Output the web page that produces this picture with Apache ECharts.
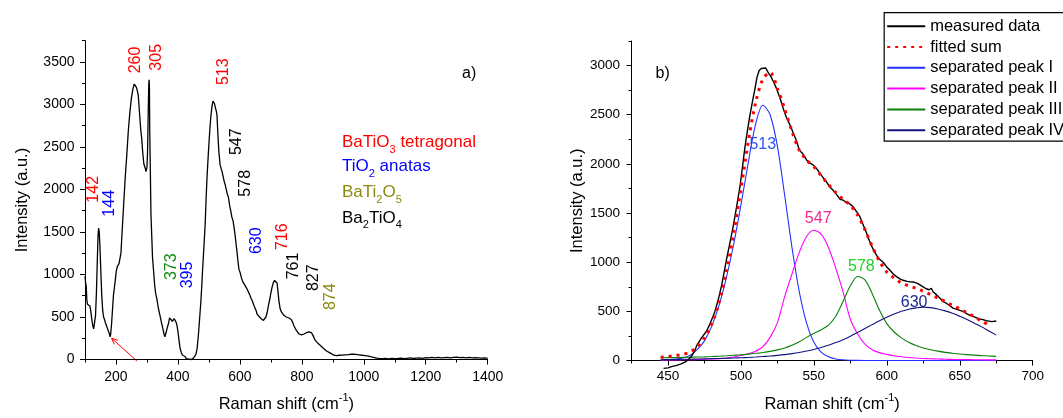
<!DOCTYPE html>
<html>
<head>
<meta charset="utf-8">
<title>Raman spectra</title>
<script src="https://cdn.jsdelivr.net/npm/echarts@6/dist/echarts.min.js"></script>
<style>
  html, body { margin: 0; padding: 0; background: #ffffff; }
  #chart { width: 1063px; height: 418px; }
</style>
</head>
<body>
<div id="chart"></div>
<script>
// ---------- panel a): full Raman spectrum ----------
const specShift = [100,102,104,106,108,110,113,116,119,122,125,128,131,134,137,140,142,144,146,148,151,154,157,160,163,166,170,173,176,179,181,183,186,189,192,195,198,201,204,207,210,213,216,219,222,226,230,235,240,245,250,255,259,262,266,269,272,276,280,283,286,290,294,297,300,302,304,306,307,308,309,311,313,316,318,321,325,328,332,337,342,347,351,355,358,362,366,370,373,376,379,382,385,388,391,394,397,400,403,407,411,415,419,423,427,431,435,439,443,447,450,454,458,462,466,470,474,477,480,484,488,491,494,498,502,506,510,513,515,518,521,524,526,529,532,536,539,542,546,549,552,556,560,563,567,571,574,578,581,585,588,590,594,597,601,605,608,611,615,619,623,628,632,636,640,644,648,652,655,659,662,665,669,672,676,680,684,688,692,696,700,704,708,712,715,717,720,723,726,730,734,738,742,746,750,754,758,762,766,770,774,779,783,787,791,795,799,803,807,811,815,819,823,827,831,835,839,843,848,852,856,860,865,870,875,880,886,892,898,904,913,920,930,940,950,960,967,975,985,995,1005,1015,1025,1035,1042,1050,1060,1070,1080,1090,1100,1110,1120,1130,1140,1150,1160,1170,1180,1190,1200,1210,1220,1230,1240,1250,1260,1270,1280,1290,1300,1310,1320,1330,1340,1350,1360,1370,1380,1390,1400];
const specCounts = [980,900,860,700,650,660,640,630,560,470,400,360,380,520,800,1200,1450,1545,1500,1350,1050,760,580,500,470,430,390,360,330,300,265,300,430,600,760,850,940,1040,1090,1100,1130,1140,1250,1450,1640,1900,2150,2410,2700,2913,3080,3190,3241,3230,3200,3160,3106,2900,2700,2604,2450,2300,2256,2210,2260,2450,2900,3250,3291,3200,2700,2200,1700,1400,1200,1059,870,780,712,600,518,430,370,300,267,320,380,430,490,470,480,450,470,480,460,440,400,330,240,132,80,50,30,35,10,-5,5,-10,0,-5,16,30,60,130,286,480,680,866,1080,1330,1599,1900,2150,2410,2650,2850,2980,3040,3050,3010,2960,2920,2880,2650,2450,2295,2250,2218,2150,2100,2063,2000,1940,1909,1810,1740,1677,1630,1561,1450,1350,1290,1150,1060,1020,960,930,904,880,860,830,808,760,720,690,650,610,580,538,520,505,498,480,470,460,470,500,550,634,700,780,850,904,930,945,943,900,800,690,596,560,540,520,498,500,495,488,480,470,440,400,364,340,320,300,286,290,295,300,306,315,322,324,324,315,290,260,228,205,190,180,165,151,130,115,100,93,75,60,50,46,50,52,55,58,62,63,60,55,50,46,40,30,22,16,12,10,12,8,14,10,12,15,10,14,18,12,16,20,14,22,18,25,20,24,18,22,26,20,24,28,22,26,20,24,18,22,20,16,20,14];

// peak assignments written above the spectrum
const peakTags = ['260','305','513','547','578','142','144','373','395','630','716','761','827','874'];
const phaseNames = ['BaTiO{s|3} tetragonal', 'TiO{s|2} anatas', 'BaTi{s|2}O{s|5}', 'Ba{s|2}TiO{s|4}'];

// ---------- panel b): peak separation of the 450-675 band ----------
const measShift = [447,450,453,456,459,462,464,466,468,470,473,476.5,479,482,484.5,486.8,488.5,490.2,492.5,494.7,497,499.3,501,502.7,504.5,506.2,508,509.6,511,512.5,514,515.3,517,519,520.5,522.5,524.5,527,529,531,533.6,536,538.2,540,541,542.7,545,547,549.5,552,555.3,558,561,563.2,566,568,570,572,574,576.9,579,581.5,583.5,586.1,588,590.6,593,595,597.5,600,602,604.3,607,609,611.2,614,616,618,621,624.9,627,629,630.5,631.7,634,636,638.6,641,643,645.4,648,650,652.3,655,657,659.1,662,664,666,668,670,672,674,675];
const measCounts = [-80,-75,-60,-50,-35,-15,10,40,90,160,230,300,380,490,620,766,900,1033,1200,1365,1560,1765,1960,2164,2340,2497,2640,2763,2880,2950,2970,2990,2975,2920,2890,2830,2763,2660,2563,2480,2397,2310,2231,2140,2160,2097,2040,2010,1990,1950,1881,1830,1765,1731,1680,1640,1632,1610,1600,1565,1520,1465,1390,1298,1220,1132,1070,1030,999,950,920,883,850,830,816,805,800,799,785,749,730,720,735,699,670,640,599,580,560,533,520,510,499,475,460,449,430,420,416,405,400,395,400,399];

const fitShift = [445,450,455,460,465,470,475,480,485,490,495,500,505,510,515,520,525,530,535,540,545,550,555,560,565,570,575,580,585,590,595,600,605,610,615,620,625,630,635,640,645,650,655,660,665,670,675];
const fittedSum = [34,40,50,62,85,140,230,370,590,900,1290,1740,2220,2620,2860,2930,2770,2560,2330,2140,2040,1970,1880,1790,1710,1640,1580,1480,1330,1160,1010,900,840,790,760,735,705,670,635,600,560,525,485,445,400,360,null];
const peakI   = [5,8,14,25,50,110,200,350,560,840,1180,1580,2010,2400,2596,2500,2180,1680,1150,700,380,185,85,38,16,7,3,1,0,0,0,0,0,0,0,0,0,0,0,0,0,0,0,0,0,0,0];
const peakII  = [4,5,6,7,8,10,12,15,19,26,36,50,68,95,140,235,385,650,880,1100,1262,1325,1285,1150,940,700,420,270,167,110,80,62,48,38,30,25,21,18,15,13,11,10,9,8,7,6,6];
const peakIII = [28,29,30,32,33,35,37,40,44,48,53,58,65,73,82,93,108,128,155,190,235,275,313,360,450,600,760,855,820,680,510,375,290,230,185,152,128,110,95,83,74,66,60,55,50,46,42];
const peakIV  = [8,9,10,12,13,15,17,19,21,23,25,28,31,35,40,45,52,60,70,82,96,112,132,155,182,212,246,285,325,365,404,440,472,500,522,535,543,538,524,505,480,450,418,380,342,300,258];
const peakTagsB = ['513','547','578','630'];

// ---------- axis ticks ----------
const ticksAX = [200,400,600,800,1000,1200,1400];
const minorAX = [100,300,500,700,900,1100,1300];
const ticksAY = [0,500,1000,1500,2000,2500,3000,3500];
const minorAY = [250,750,1250,1750,2250,2750,3250,3750];
const ticksBX = [450,500,550,600,650,700];
const minorBX = [425,475,525,575,625,675];
const ticksBY = [0,500,1000,1500,2000,2500,3000];
const minorBY = [250,750,1250,1750,2250,2750,3250];

const FONT = '"Liberation Sans", Arial, sans-serif';
const zip = (xs, ys) => xs.map((x, i) => [x, ys[i]]);
const plain = v => String(v);

const nameRich = {
  m: { fontSize: 16.5, fontFamily: FONT, color: '#000', lineHeight: 24 },
  s: { fontSize: 11, fontFamily: FONT, color: '#000', verticalAlign: 'top' }
};

function mainAxis(grid, min, max, ticks, pos, labelSize, labelMargin, extra) {
  return Object.assign({
    type: 'value', gridIndex: grid, min, max, position: pos,
    axisLine: { show: true, onZero: false, lineStyle: { color: '#000', width: 1 } },
    axisTick: { show: true, inside: false, length: 5, customValues: ticks, lineStyle: { color: '#000', width: 1 } },
    axisLabel: { show: true, customValues: ticks, formatter: plain, color: '#000',
      fontFamily: FONT, fontSize: labelSize, margin: labelMargin },
    splitLine: { show: false }
  }, extra);
}
function minorAxis(grid, min, max, ticks, pos) {
  return {
    type: 'value', gridIndex: grid, min, max, position: pos,
    axisLine: { show: false },
    axisTick: { show: true, inside: false, length: 3, customValues: ticks, lineStyle: { color: '#000', width: 1 } },
    axisLabel: { show: false },
    splitLine: { show: false }
  };
}

const chart = echarts.init(document.getElementById('chart'), null, { renderer: 'canvas' });

// rotated peak positions for panel a)
const tagLayoutA = [
  [135.2, 60, '#ff0000'], [156.2, 57.3, '#ff0000'], [223.1, 71.7, '#ff0000'],
  [236.6, 141.7, '#000000'], [245.8, 183.3, '#000000'], [94, 189.3, '#ff0000'],
  [109.9, 203.3, '#0000ff'], [171.4, 266.7, '#108a10'], [187.6, 275, '#0000ff'],
  [256.9, 240.7, '#0000ff'], [282.3, 236.7, '#ff0000'], [293.4, 266, '#000000'],
  [313.7, 277.7, '#000000'], [330.6, 296.7, '#8a8a10']
];
const phaseLayout = [[342, 142.7, '#ff0000'], [342, 166.7, '#0000ff'], [342, 192.7, '#8a8a10'], [342, 218.3, '#000000']];
const tagLayoutB = [[762.8, 144.3, '#2f55f0'], [818.2, 219, '#f0288a'], [861.4, 266.7, '#22d022'], [914.1, 302.3, '#1c2a8c']];

const graphics = [];
peakTags.forEach((t, i) => {
  const [x, y, c] = tagLayoutA[i];
  graphics.push({ type: 'text', x, y, rotation: Math.PI / 2, silent: true,
    style: { text: t, fill: c, font: '16px ' + FONT, align: 'center', verticalAlign: 'middle' } });
});
phaseNames.forEach((t, i) => {
  const [x, y, c] = phaseLayout[i];
  graphics.push({ type: 'text', x, y, silent: true,
    style: { text: '{m|' + t.replace(/\{s\|(\w)\}/g, '}{s|$1}{m|') + '}', align: 'left', verticalAlign: 'middle',
      rich: { m: { fontSize: 17, fontFamily: FONT, fill: c, lineHeight: 25 },
              s: { fontSize: 11, fontFamily: FONT, fill: c, verticalAlign: 'bottom' } } } });
});
peakTagsB.forEach((t, i) => {
  const [x, y, c] = tagLayoutB[i];
  graphics.push({ type: 'text', x, y, silent: true,
    style: { text: t, fill: c, font: '16px ' + FONT, align: 'center', verticalAlign: 'middle' } });
});
graphics.push({ type: 'text', x: 469.2, y: 74, silent: true,
  style: { text: 'a)', fill: '#000', font: '16px ' + FONT, align: 'center', verticalAlign: 'middle' } });
graphics.push({ type: 'text', x: 662.6, y: 74, silent: true,
  style: { text: 'b)', fill: '#000', font: '16px ' + FONT, align: 'center', verticalAlign: 'middle' } });
// red arrow pointing at the 180 cm-1 dip
graphics.push({ type: 'line', silent: true, shape: { x1: 136.9, y1: 361, x2: 111.6, y2: 338.3 },
  style: { stroke: '#ff0000', lineWidth: 1 } });
graphics.push({ type: 'polyline', silent: true, shape: { points: [[117.7, 340.2], [111.6, 338.3], [114.2, 344.2]] },
  style: { stroke: '#ff0000', lineWidth: 1, fill: null } });

const option = {
  backgroundColor: '#ffffff',
  animation: false,
  textStyle: { fontFamily: FONT },
  grid: [
    { left: 85, top: 40.7, width: 402.7, height: 324, containLabel: false },
    { left: 631.5, top: 41, width: 401.2, height: 325.7, containLabel: false }
  ],
  xAxis: [
    mainAxis(0, 100, 1400, ticksAX, 'bottom', 14, 11, {
      name: '{m|Raman shift (cm}{s|-1}{m|)}', nameLocation: 'middle', nameGap: 33, nameTextStyle: { rich: nameRich } }),
    minorAxis(0, 100, 1400, minorAX, 'bottom'),
    mainAxis(1, 425, 700, ticksBX, 'bottom', 13.5, 8.5, {
      name: '{m|Raman shift (cm}{s|-1}{m|)}', nameLocation: 'middle', nameGap: 32, nameTextStyle: { rich: nameRich } }),
    minorAxis(1, 425, 700, minorBX, 'bottom')
  ],
  yAxis: [
    mainAxis(0, 0, 3750, ticksAY, 'left', 14, 10.5, {
      name: 'Intensity (a.u.)', nameLocation: 'middle', nameGap: 54,
      nameTextStyle: { fontSize: 16.5, fontFamily: FONT, color: '#000' } }),
    minorAxis(0, 0, 3750, minorAY, 'left'),
    mainAxis(1, 0, 3250, ticksBY, 'left', 13.5, 11.5, {
      name: 'Intensity (a.u.)', nameLocation: 'middle', nameGap: 42,
      nameTextStyle: { fontSize: 16.5, fontFamily: FONT, color: '#000' } }),
    minorAxis(1, 0, 3250, minorBY, 'left')
  ],
  legend: {
    data: ['measured data', 'fitted sum', 'separated peak I', 'separated peak II', 'separated peak III', 'separated peak IV'],
    orient: 'vertical', left: 884.2, top: 12.7,
    padding: [4.5, 12, 2, 2], itemGap: 2.8, itemWidth: 38, itemHeight: 14,
    backgroundColor: '#ffffff', borderColor: '#000', borderWidth: 1.2, borderRadius: 0,
    itemStyle: { opacity: 0 },
    textStyle: { color: '#000', fontFamily: FONT, fontSize: 16.5, lineHeight: 18, padding: [0, 0, 0, 0] },
    selectedMode: false
  },
  series: [
    { name: 'Raman spectrum', type: 'line', xAxisIndex: 0, yAxisIndex: 0, data: zip(specShift, specCounts),
      symbol: 'none', clip: false, lineStyle: { color: '#000', width: 1.3 }, itemStyle: { color: '#000' } },
    { name: 'separated peak I', type: 'line', xAxisIndex: 2, yAxisIndex: 2, data: zip(fitShift, peakI), smooth: 0.3,
      symbol: 'none', lineStyle: { color: '#2233ff', width: 1.1 }, itemStyle: { color: '#2233ff' } },
    { name: 'separated peak II', type: 'line', xAxisIndex: 2, yAxisIndex: 2, data: zip(fitShift, peakII), smooth: 0.3,
      symbol: 'none', lineStyle: { color: '#ff00ff', width: 1.1 }, itemStyle: { color: '#ff00ff' } },
    { name: 'separated peak III', type: 'line', xAxisIndex: 2, yAxisIndex: 2, data: zip(fitShift, peakIII), smooth: 0.3,
      symbol: 'none', lineStyle: { color: '#0a800a', width: 1.1 }, itemStyle: { color: '#0a800a' } },
    { name: 'separated peak IV', type: 'line', xAxisIndex: 2, yAxisIndex: 2, data: zip(fitShift, peakIV), smooth: 0.3,
      symbol: 'none', lineStyle: { color: '#141480', width: 1.1 }, itemStyle: { color: '#141480' } },
    { name: 'measured data', type: 'line', xAxisIndex: 2, yAxisIndex: 2, data: zip(measShift, measCounts),
      symbol: 'none', clip: false, lineStyle: { color: '#000', width: 1.4 }, itemStyle: { color: '#000' } },
    { name: 'fitted sum', type: 'line', xAxisIndex: 2, yAxisIndex: 2, data: zip(fitShift, fittedSum), smooth: 0.3,
      symbol: 'none', lineStyle: { color: '#ff0000', width: 3, type: [3, 5], cap: 'butt' }, itemStyle: { color: '#ff0000' } }
  ],
  graphic: graphics
};

chart.setOption(option);
</script>
</body>
</html>
